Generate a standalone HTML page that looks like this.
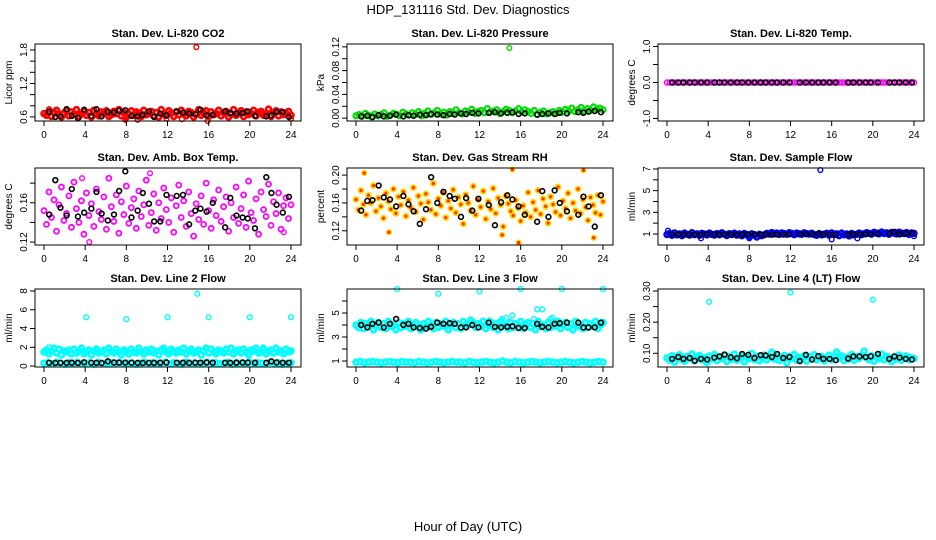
<!DOCTYPE html>
<html><head><meta charset="utf-8"><style>
html,body{margin:0;padding:0;background:#fff;}
svg{display:block;font-family:"Liberation Sans",Arial,sans-serif;}
</style></head><body>
<svg id="chart" width="936" height="540" viewBox="0 0 936 540">
<text x="468" y="14" text-anchor="middle" font-size="13">HDP_131116  Std. Dev. Diagnostics</text>
<text x="468" y="531" text-anchor="middle" font-size="13">Hour of Day (UTC)</text>
</svg>
<script>
const xTicks=[0,4,8,12,16,20,24];
const blackTimes=[0.5,1.1,1.6,2.2,2.7,3.3,3.9,4.6,5.1,5.6,6.2,6.8,7.3,7.9,8.5,9.1,9.6,10.2,10.7,11.3,11.9,12.9,13.5,14.1,14.7,15.2,15.8,16.4,17.6,18.1,18.7,19.3,19.8,20.5,21.6,22.1,22.6,23.2,23.8];

const co2Red=[0.66,0.63,0.70,0.61,0.68,0.72,0.64,0.60,0.67,0.71,0.62,0.69,0.65,0.73,0.61,0.66,0.70,0.63,0.68,0.60,0.72,0.65,0.62,0.69,0.67,0.71,0.61,0.64,0.70,0.66,0.73,0.62,0.68,0.60,0.65,0.71,0.63,0.69,0.67,0.61,0.72,0.64,0.66,0.70,0.62,0.68,0.60,0.73,0.65,0.63,0.71,0.67,0.61,0.69,0.64,0.72,0.66,0.62,0.70,0.68,0.60,0.65,0.73,0.63,0.67,0.71,0.61,0.69,0.64,0.66,0.72,0.62,0.68,0.70,0.60,0.65,0.73,0.63,0.67,0.71,0.61,0.69,0.64,0.66,0.72,0.62,0.68,0.70,0.63,0.65,0.74,0.61,0.67,0.71,0.62,0.69,0.64,0.66,0.70,0.63];
const co2OutT=[14.8,7.9,9.1,15.9,13.4,11.9,24,0.5];
const co2OutV=[1.85,0.55,0.55,0.53,0.56,0.57,0.57,0.74];
const co2Black=[0.69,0.60,0.61,0.74,0.62,0.58,0.73,0.62,0.74,0.61,0.69,0.68,0.71,0.72,0.62,0.61,0.64,0.70,0.60,0.66,0.63,0.70,0.68,0.66,0.65,0.73,0.63,0.64,0.70,0.67,0.66,0.67,0.70,0.62,0.61,0.63,0.69,0.69,0.60];

const presGreen=[0.004,0.006,0.003,0.008,0.005,0.002,0.007,0.004,0.006,0.009,0.003,0.005,0.008,0.006,0.004,0.010,0.007,0.005,0.009,0.006,0.011,0.004,0.008,0.012,0.006,0.009,0.013,0.007,0.010,0.005,0.011,0.008,0.014,0.009,0.007,0.012,0.010,0.015,0.008,0.011,0.013,0.009,0.016,0.010,0.012,0.014,0.008,0.011,0.015,0.013,0.009,0.012,0.016,0.010,0.014,0.011,0.008,0.013,0.006,0.010,0.012,0.007,0.009,0.011,0.008,0.013,0.010,0.015,0.012,0.017,0.011,0.014,0.018,0.012,0.016,0.013,0.019,0.015,0.017,0.014];
const presOutT=[14.9];
const presOutV=[0.118];
const presBlack=[0.003,0.004,0.002,0.005,0.003,0.004,0.006,0.003,0.005,0.004,0.006,0.005,0.007,0.006,0.005,0.007,0.006,0.008,0.007,0.009,0.008,0.009,0.010,0.008,0.009,0.010,0.007,0.008,0.006,0.007,0.008,0.007,0.009,0.008,0.010,0.009,0.011,0.012,0.010];

const tempMag=[0,0,0,0,0,0,0,0,0,0,0,0,0,0,0,0,0,0,0,0,0,0,0,0,0,0,0,0,0,0,0,0,0,0,0,0,0,0,0,0,0,0,0,0,0,0,0,0,0,0,0,0,0,0,0,0,0,0,0,0,0,0,0,0,0,0,0,0,0,0,0,0,0,0,0,0,0,0,0,0,0,0,0,0,0,0,0,0,0,0];
const tempBlack=[0,0,0,0,0,0,0,0,0,0,0,0,0,0,0,0,0,0,0,0,0,0,0,0,0,0,0,0,0,0,0,0,0,0,0,0,0,0,0];

const ambMag=[0.152,0.138,0.171,0.145,0.163,0.131,0.158,0.176,0.142,0.149,0.167,0.135,0.181,0.154,0.140,0.162,0.128,0.170,0.147,0.159,0.136,0.174,0.151,0.143,0.166,0.133,0.185,0.156,0.141,0.168,0.129,0.161,0.148,0.177,0.139,0.155,0.164,0.134,0.172,0.146,0.158,0.183,0.137,0.150,0.169,0.132,0.160,0.144,0.175,0.153,0.140,0.165,0.130,0.157,0.178,0.145,0.162,0.136,0.171,0.149,0.126,0.159,0.143,0.167,0.138,0.180,0.152,0.134,0.163,0.147,0.173,0.141,0.156,0.166,0.131,0.160,0.145,0.176,0.139,0.154,0.168,0.135,0.182,0.150,0.142,0.164,0.128,0.171,0.153,0.146,0.179,0.137,0.161,0.149,0.170,0.133,0.157,0.165,0.144,0.158];
const ambOutT=[4.4,10.3,3.7,23.3];
const ambOutV=[0.120,0.190,0.185,0.130];
const ambBlack=[0.148,0.183,0.155,0.147,0.174,0.146,0.150,0.154,0.171,0.149,0.142,0.148,0.172,0.192,0.145,0.152,0.170,0.159,0.141,0.141,0.168,0.167,0.168,0.138,0.152,0.154,0.151,0.160,0.135,0.165,0.147,0.145,0.144,0.134,0.186,0.170,0.158,0.150,0.166];

const rhYel=[0.165,0.150,0.178,0.158,0.143,0.171,0.160,0.185,0.148,0.167,0.155,0.138,0.174,0.162,0.151,0.180,0.145,0.169,0.157,0.176,0.141,0.164,0.153,0.182,0.147,0.170,0.159,0.136,0.173,0.161,0.150,0.188,0.144,0.166,0.156,0.175,0.139,0.163,0.152,0.179,0.146,0.168,0.158,0.130,0.172,0.160,0.149,0.184,0.143,0.165,0.154,0.177,0.137,0.162,0.151,0.181,0.145,0.167,0.157,0.126,0.170,0.159,0.148,0.142,0.164,0.153,0.134,0.156,0.146,0.175,0.140,0.161,0.150,0.178,0.144,0.166,0.155,0.131,0.169,0.158,0.147,0.183,0.142,0.163,0.152,0.174,0.138,0.160,0.149,0.180,0.145,0.165,0.154,0.135,0.168,0.157,0.146,0.171,0.143,0.162];
const rhOutT=[0.8,15.2,15.8,22.1,14.2,23.1,3.2];
const rhOutV=[0.203,0.208,0.103,0.207,0.114,0.110,0.118];
const rhBlack=[0.149,0.163,0.164,0.185,0.168,0.165,0.155,0.170,0.158,0.148,0.130,0.151,0.197,0.160,0.176,0.170,0.166,0.140,0.167,0.149,0.166,0.157,0.128,0.161,0.171,0.165,0.155,0.143,0.133,0.177,0.140,0.178,0.160,0.148,0.143,0.169,0.155,0.126,0.171];

const flowBlue=[0.95,1.05,0.88,1.10,0.92,1.00,0.85,1.08,0.97,0.90,1.12,0.94,1.02,0.87,1.06,0.99,0.91,1.09,0.96,0.89,1.04,0.93,1.11,0.98,0.86,1.03,0.95,1.07,0.90,1.00,0.84,1.05,0.92,0.78,1.01,0.88,0.72,0.97,0.85,0.93,1.06,0.99,1.13,1.02,1.08,0.96,1.10,1.04,0.98,1.12,1.05,0.94,1.09,1.01,0.97,1.11,1.03,0.99,1.07,0.95,0.88,1.04,0.92,0.98,1.06,0.90,1.10,0.96,1.02,0.85,1.08,0.93,1.00,0.82,1.05,0.91,0.97,1.09,0.94,1.03,1.12,1.06,0.99,1.15,1.08,1.02,1.18,1.05,1.11,0.98,1.14,1.07,1.01,1.16,1.09,1.04,1.13,0.96,1.10,1.06];
const flowOutT=[14.9,0.1,3.3,8.0,16.0,24.0,18.5];
const flowOutV=[6.9,1.3,0.6,0.6,0.5,0.8,0.6];
const flowBlack=[0.98,0.97,0.95,0.98,0.96,0.94,0.99,0.97,0.96,0.98,0.97,0.95,0.96,0.97,0.98,0.95,0.97,0.94,0.96,0.95,0.98,1.00,0.99,0.98,1.01,0.97,0.95,0.94,0.96,0.97,0.96,0.98,0.99,1.00,1.05,1.20,0.97,1.04,1.08];

const l2Upper=[1.5,1.7,1.3,1.6,1.9,1.4,1.8,1.2,1.6,1.5,1.7,1.3,1.8,1.4,1.6,1.9,1.3,1.5,1.7,1.2,1.6,1.8,1.4,1.5,1.7,1.3,1.9,1.6,1.4,1.8,1.5,1.2,1.7,1.6,1.3,1.8,1.5,1.4,1.9,1.6,1.3,1.7,1.5,1.8,1.4,1.6,1.2,1.7,1.9,1.5,1.3,1.8,1.6,1.4,1.7,1.5,1.9,1.3,1.6,1.8,1.4,1.5,1.7,1.2,1.6,1.9,1.4,1.8,1.5,1.3,1.7,1.6,1.4,1.8,1.5,1.9,1.3,1.6,1.7,1.4,1.8,1.5,1.2,1.7,1.6,1.9,1.4,1.5,1.8,1.3,1.6,1.7,1.4,1.9,1.5,1.6,1.3,1.8,1.5,1.6];
const l2Lower=[0.30,0.35,0.25,0.40,0.30,0.20,0.35,0.30,0.40,0.25,0.30,0.35,0.20,0.40,0.30,0.25,0.35,0.30,0.40,0.25,0.30,0.35,0.20,0.30,0.40,0.25,0.35,0.30,0.30,0.40,0.25,0.35,0.30,0.20,0.40,0.30,0.35,0.25,0.30,0.40,0.30,0.35,0.25,0.30,0.40,0.20,0.35,0.30,0.25,0.40,0.30,0.35,0.30,0.25,0.40,0.30,0.35,0.20,0.30,0.35];
const l2OutT=[4.1,8.0,12.0,14.9,16.0,20.0,24.0,0.5,21.3];
const l2OutV=[5.2,5.0,5.2,7.7,5.2,5.2,5.2,2.0,2.0];
const l2Black=[0.35,0.33,0.35,0.34,0.36,0.33,0.40,0.35,0.34,0.33,0.50,0.38,0.36,0.37,0.35,0.34,0.33,0.35,0.34,0.36,0.38,0.35,0.36,0.34,0.35,0.36,0.38,0.36,0.35,0.34,0.36,0.38,0.37,0.36,0.35,0.50,0.38,0.36,0.35];

const l3Upper=[4.0,3.8,4.2,3.7,4.1,3.9,4.3,3.6,4.0,4.2,3.8,4.1,3.7,4.3,3.9,4.0,3.6,4.2,3.8,4.1,3.9,4.3,3.7,4.0,4.2,3.8,3.6,4.1,3.9,4.3,4.0,3.7,4.2,3.8,4.1,3.9,4.3,3.6,4.0,4.2,3.8,4.1,3.7,4.3,3.9,4.0,4.4,4.2,3.8,4.1,3.9,4.3,3.7,4.0,4.2,3.8,4.1,3.6,4.3,3.9,4.0,3.7,4.2,3.8,4.1,3.9,4.3,3.7,4.0,4.2,3.8,4.1,3.6,4.3,3.9,4.0,3.7,4.2,3.8,4.1,3.9,4.3,3.7,4.0,4.2,3.8,4.1,3.6,4.3,3.9,4.0,3.7,4.2,3.8,4.1,3.9,4.3,3.7,4.0,4.2];
const l3Lower=[0.9,0.95,0.85,0.9,0.95,0.9,0.85,0.9,0.95,0.9,0.85,0.95,0.9,0.9,0.85,0.95,0.9,0.85,0.9,0.95,0.9,0.85,0.9,0.95,0.9,0.9,0.85,0.95,0.9,0.85,0.9,0.95,0.9,0.85,0.9,1.0,0.9,0.85,0.95,0.9,0.85,0.9,0.95,0.9,0.85,0.9,0.95,0.9,0.85,0.9,0.95,0.9,0.85,0.9,0.95,0.9,0.85,0.9,0.95,0.9];
const l3OutT=[4.0,8.0,12.0,16.0,20.0,24.0,17.3,17.6,18.1,18.9,19.1,14.2,14.6,15.2,13.0];
const l3OutV=[7.0,6.6,6.8,7.0,7.0,7.0,4.5,5.3,5.3,4.5,4.6,4.5,4.6,4.8,4.4];
const l3Black=[4.0,3.8,4.1,4.2,3.8,4.1,4.5,4.0,4.1,3.8,3.75,3.7,3.85,4.2,4.1,4.15,4.1,3.8,3.8,4.0,3.8,4.2,3.85,3.8,3.85,3.9,3.75,3.75,4.1,3.85,3.8,4.1,4.15,4.2,4.2,3.8,3.8,3.8,4.2];

const l4Cyan=[0.085,0.078,0.092,0.072,0.088,0.095,0.080,0.075,0.090,0.083,0.098,0.076,0.087,0.093,0.079,0.085,0.071,0.091,0.082,0.096,0.077,0.088,0.084,0.094,0.074,0.089,0.081,0.097,0.078,0.086,0.092,0.073,0.087,0.083,0.099,0.080,0.090,0.076,0.085,0.094,0.079,0.088,0.103,0.082,0.091,0.077,0.086,0.093,0.070,0.089,0.084,0.096,0.078,0.087,0.081,0.092,0.075,0.088,0.084,0.095,0.079,0.086,0.090,0.076,0.083,0.094,0.080,0.088,0.104,0.085,0.091,0.077,0.087,0.082,0.096,0.078,0.089,0.084,0.093,0.107,0.086,0.080,0.092,0.075,0.088,0.083,0.097,0.079,0.090,0.085,0.074,0.088,0.082,0.094,0.078,0.087,0.091,0.080,0.085,0.083];
const l4OutT=[4.1,12.0,20.0];
const l4OutV=[0.265,0.295,0.272];
const l4Black=[0.082,0.088,0.082,0.085,0.076,0.082,0.080,0.086,0.090,0.096,0.087,0.084,0.098,0.095,0.085,0.094,0.093,0.088,0.098,0.085,0.088,0.075,0.095,0.080,0.091,0.082,0.082,0.078,0.083,0.090,0.090,0.088,0.090,0.098,0.082,0.090,0.086,0.082,0.080];

const NS='http://www.w3.org/2000/svg';
const svg=document.getElementById('chart');
function mk(tag,attrs,parent){const e=document.createElementNS(NS,tag);for(const k in attrs)e.setAttribute(k,attrs[k]);(parent||svg).appendChild(e);return e;}

const colLeft=[35,347,658];
const rowTop=[44,168,289];
const rowBot=[121,245,367];
const boxW=266;

const panels=[
 {title:'Stan. Dev. Li-820 CO2',ylab:'Licor ppm',ylim:[0.528,1.907],ticks:[0.6,0.8,1.0,1.2,1.4,1.6,1.8],labels:['0.6','1.2','1.8'],col:'#ff0000',fill:'none',sw:2.6,series:[co2Red],outT:co2OutT,outV:co2OutV,black:co2Black},
 {title:'Stan. Dev. Li-820 Pressure',ylab:'kPa',ylim:[-0.0048,0.1248],ticks:[0,0.02,0.04,0.06,0.08,0.1,0.12],labels:['0.00','0.04','0.08','0.12'],col:'#00dd00',fill:'none',sw:2.2,series:[presGreen],outT:presOutT,outV:presOutV,black:presBlack},
 {title:'Stan. Dev. Li-820 Temp.',ylab:'degrees C',ylim:[-1.07,1.07],ticks:[-1,-0.5,0,0.5,1],labels:['-1.0','0.0','1.0'],col:'#ff00ff',fill:'none',sw:1.5,series:[tempMag],outT:[],outV:[],black:tempBlack},
 {title:'Stan. Dev. Amb. Box Temp.',ylab:'degrees C',ylim:[0.117,0.1954],ticks:[0.12,0.14,0.16,0.18],labels:['0.12','0.16'],col:'#ff00ff',fill:'none',sw:1.8,series:[ambMag],outT:ambOutT,outV:ambOutV,black:ambBlack},
 {title:'Stan. Dev. Gas Stream RH',ylab:'percent',ylim:[0.0996,0.2102],ticks:[0.12,0.14,0.16,0.18,0.2],labels:['0.12','0.16','0.20'],col:'#ffd800',fill:'#ff3000',sw:1.8,series:[rhYel],outT:rhOutT,outV:rhOutV,black:rhBlack},
 {title:'Stan. Dev. Sample Flow',ylab:'ml/min',ylim:[-0.016,7.09],ticks:[1,2,3,4,5,6,7],labels:['1','3','5','7'],col:'#0000ff',fill:'none',sw:2.4,series:[flowBlue],outT:flowOutT,outV:flowOutV,black:flowBlack},
 {title:'Stan. Dev. Line 2 Flow',ylab:'ml/min',ylim:[-0.1,8.21],ticks:[0,2,4,6,8],labels:['0','2','4','6','8'],col:'#00ffff',fill:'none',sw:2.6,series:[l2Upper,l2Lower],outT:l2OutT,outV:l2OutV,black:l2Black},
 {title:'Stan. Dev. Line 3 Flow',ylab:'ml/min',ylim:[0.5,7.0],ticks:[1,2,3,4,5,6],labels:['1','3','5'],col:'#00ffff',fill:'none',sw:2.6,series:[l3Upper,l3Lower],outT:l3OutT,outV:l3OutV,black:l3Black},
 {title:'Stan. Dev. Line 4 (LT) Flow',ylab:'ml/min',ylim:[0.056,0.3064],ticks:[0.1,0.15,0.2,0.25,0.3],labels:['0.10','0.20','0.30'],col:'#00ffff',fill:'none',sw:2.6,series:[l4Cyan],outT:l4OutT,outV:l4OutV,black:l4Black}
];

panels.forEach((p,idx)=>{
  const L=colLeft[idx%3],T=rowTop[Math.floor(idx/3)],B=rowBot[Math.floor(idx/3)];
  const xs=t=>L+9+t*(247/24);
  const ys=v=>B-(v-p.ylim[0])/(p.ylim[1]-p.ylim[0])*(B-T);
  const g=mk('g',{});
  
  
  const tt=mk('text',{x:L+boxW/2,y:T-7,'text-anchor':'middle','font-size':'11','font-weight':'bold'},g);
  tt.textContent=p.title;
  
  
  const yl=mk('text',{x:0,y:0,'text-anchor':'middle','font-size':'10',transform:`translate(${L-23},${(T+B)/2}) rotate(-90)`},g);
  yl.textContent=p.ylab;
  
  
  const pts=mk('g',{},g);
  
  
  p.series.forEach(arr=>{
    const n=arr.length;
    arr.forEach((v,i)=>{
      const c=mk('circle',{cx:xs(i*24/(n-1)),cy:ys(v),r:2.5,fill:p.fill,stroke:p.col,'stroke-width':p.sw},pts);
      
      
    });
  });
  p.outT.forEach((t,i)=>{
    const c=mk('circle',{cx:xs(t),cy:ys(p.outV[i]),r:2.4,fill:p.fill,stroke:p.col,'stroke-width':1.4},pts);
    
    
  });
  p.black.forEach((v,i)=>{
    const c=mk('circle',{cx:xs(blackTimes[i]),cy:ys(v),r:2.4,fill:'none',stroke:'#000','stroke-width':1.6},pts);
    
    
  });
  const box=mk('rect',{x:L,y:T,width:boxW,height:B-T,fill:'none',stroke:'#000','stroke-width':1},g);
  
  
  xTicks.forEach(t=>{
    mk('line',{x1:xs(t),x2:xs(t),y1:B,y2:B+5,stroke:'#000'},g);
    const lb=mk('text',{x:xs(t),y:B+17,'text-anchor':'middle','font-size':'10'},g);
    lb.textContent=t;
    
    
  });
  p.ticks.forEach(v=>{
    mk('line',{x1:L-5,x2:L,y1:ys(v),y2:ys(v),stroke:'#000'},g);
  });
  p.labels.forEach(s=>{
    const v=parseFloat(s);
    const lb=mk('text',{x:0,y:0,'text-anchor':'middle','font-size':'10',transform:`translate(${L-8},${ys(v)}) rotate(-90)`},g);
    lb.textContent=s;
    
    
  });
});
</script>
</body></html>
